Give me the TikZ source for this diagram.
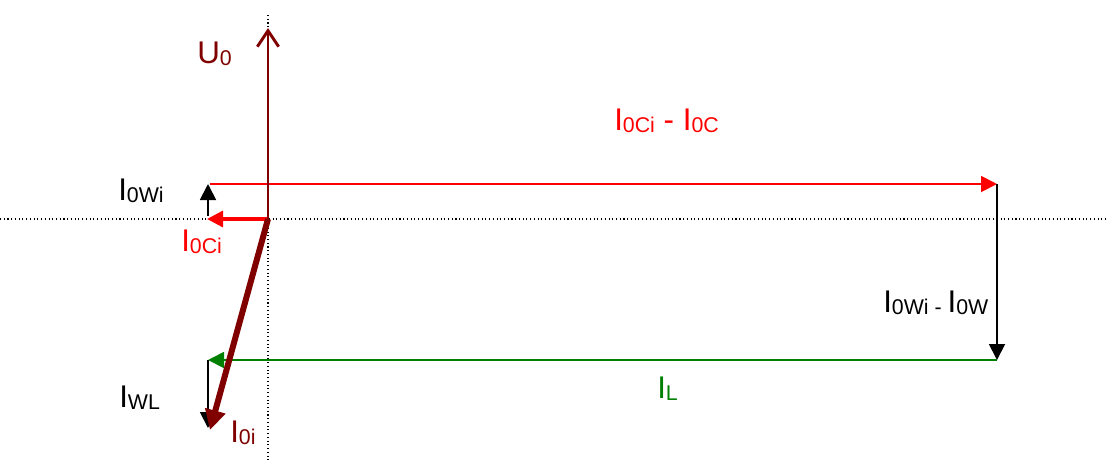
\documentclass[tikz,border=0pt]{standalone}
\usepackage{fontspec}
\setmainfont{Liberation Sans}
\usepackage{xcolor}
\usetikzlibrary{arrows.meta}

\definecolor{darkred}{RGB}{128,0,0}
\definecolor{vred}{RGB}{255,0,0}
\definecolor{vgreen}{RGB}{0,128,0}
\newcommand{\lsub}[1]{\raisebox{-2pt}{\fontsize{16}{16}\selectfont #1}}

\begin{document}
\begin{tikzpicture}[x=0.75pt, y=-0.75pt,
  lbl/.style={anchor=base west, inner sep=0pt, font=\fontsize{23.5}{27}\selectfont},
  vec/.style={-{Triangle[length=12pt, width=12pt]}, line width=1.4pt},
  guide/.style={dotted, line width=0.8pt}
]
\useasboundingbox (0,0) rectangle (1107,462);

% reference axes
\coordinate (vtop) at (268,15);
\coordinate (vbot) at (268,462);
\coordinate (hleft) at (0,219);
\coordinate (hright) at (1107,219);
\draw[guide] (vtop) -- (vbot);
\draw[guide] (hleft) -- (hright);

% vector corners
\coordinate (O) at (268,219);
\coordinate (U) at (268,28);
\coordinate (A) at (207,219);
\coordinate (A1) at (208,216);
\coordinate (B) at (208,184);
\coordinate (B1) at (210,184);
\coordinate (C) at (997,184);
\coordinate (D) at (997,360);
\coordinate (E) at (208,360);
\coordinate (F) at (208,428);
\coordinate (G) at (210,430);

\draw[vred, vec] (B1) -- (C);
\draw[vec] (C) -- (D);
\draw[vec] (A1) -- (B);
\draw[vgreen, vec] (D) -- (E);
\draw[vec] (E) -- (F);
\draw[vred, vec, line width=2.4pt, -{Triangle[length=12pt, width=12pt]}] (O) -- (A);
\draw[darkred, line width=2.2pt, -{Straight Barb[length=12pt, width=16pt]}] (O) -- (U);
\draw[darkred, line width=4.5pt, -{Triangle[length=15pt, width=15pt]}] (O) -- (G);

% labels
\node[lbl, text=darkred] (lu) at (197,63) {U\lsub{0}};
\node[lbl, text=vred] (lcc) at (614,130) {I\lsub{0Ci} - I\lsub{0C}};
\node[lbl] (lwi) at (118,200) {I\lsub{0Wi}};
\node[lbl, text=vred] (lci) at (181,251) {I\lsub{0Ci}};
\node[lbl] (lww) at (883,312) {I\lsub{0Wi - }I\lsub{0W}};
\node[lbl, text=vgreen] (ll) at (657,398) {I\lsub{L}};
\node[lbl] (lwl) at (119,407) {I\lsub{WL}};
\node[lbl, text=darkred] (li) at (230,442) {I\lsub{0i}};
\end{tikzpicture}
\end{document}
